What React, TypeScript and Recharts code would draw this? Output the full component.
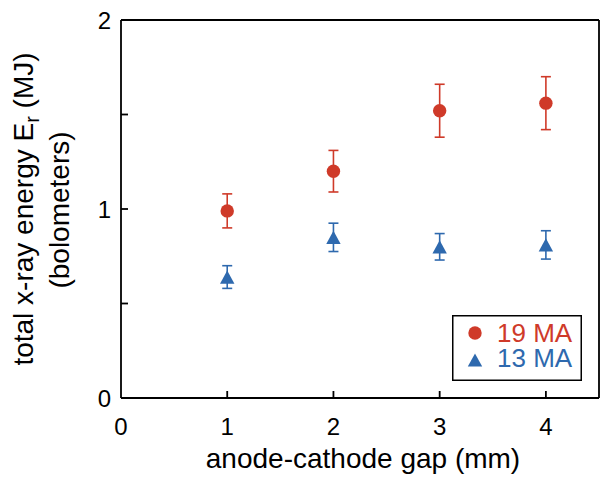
import React from 'react';
import { ScatterChart, Scatter, XAxis, YAxis, ErrorBar, Legend } from 'recharts';

const gap = [1, 2, 3, 4];
const energy19 = [0.99, 1.2, 1.52, 1.56];
const err19 = [0.09, 0.11, 0.14, 0.14];
const energy13 = [0.64, 0.85, 0.8, 0.81];
const err13 = [0.06, 0.075, 0.07, 0.075];
const xTicks = [0, 1, 2, 3, 4];
const yTicks = [0, 0.5, 1, 1.5, 2];

const RED = '#cf3a29';
const BLUE = '#2e69ae';
const FONT = '"Liberation Sans", Arial, Helvetica, sans-serif';
const AXIS_W = 1.8;
const TICK_LEN = 7;

const data19 = gap.map((g, i) => ({ x: g, y: energy19[i], err: err19[i] }));
const data13 = gap.map((g, i) => ({ x: g, y: energy13[i], err: err13[i] }));

function Dot(props: any) {
  const { cx, cy, fill } = props;
  return <circle cx={cx} cy={cy} r={6.7} fill={fill} />;
}

function Tri(props: any) {
  const { cx, cy, fill } = props;
  const w = 7.2;
  const h = 6.6;
  return <path d={`M${cx},${cy - h} L${cx + w},${cy + h} L${cx - w},${cy + h} Z`} fill={fill} />;
}

function BottomTick({ x, y, payload }: any) {
  return (
    <g>
      {payload.value > 0 && <line x1={x} x2={x} y1={y} y2={y - TICK_LEN} stroke="#000" strokeWidth={AXIS_W} />}
      <text x={x} y={y + 37} textAnchor="middle" fontSize={24} fontFamily={FONT} fill="#000">
        {payload.value}
      </text>
    </g>
  );
}

function TopTick({ x, y, payload }: any) {
  if (payload.value <= 0) return <g />;
  return <line x1={x} x2={x} y1={y} y2={y + TICK_LEN} stroke="#000" strokeWidth={AXIS_W} />;
}

function LeftTick({ x, y, payload }: any) {
  const v = payload.value;
  return (
    <g>
      {v > 0 && v < 2 && <line x1={x} x2={x + TICK_LEN} y1={y} y2={y} stroke="#000" strokeWidth={AXIS_W} />}
      {Number.isInteger(v) && (
        <text x={x - 10} y={y + 8.5} textAnchor="end" fontSize={24} fontFamily={FONT} fill="#000">
          {v}
        </text>
      )}
    </g>
  );
}

function RightTick({ x, y, payload }: any) {
  const v = payload.value;
  if (v <= 0 || v >= 2) return <g />;
  return <line x1={x} x2={x - TICK_LEN} y1={y} y2={y} stroke="#000" strokeWidth={AXIS_W} />;
}

function YLabel() {
  return (
    <g fontFamily={FONT} fontSize={28} fill="#000">
      <text x={33} y={209} transform="rotate(-90 33 209)" textAnchor="middle">
        total x-ray energy E<tspan dy={6} fontSize={20}>r</tspan>
        <tspan dy={-6}> (MJ)</tspan>
      </text>
      <text x={69} y={210} transform="rotate(-90 69 210)" textAnchor="middle">
        (bolometers)
      </text>
    </g>
  );
}

function XLabel() {
  return (
    <text x={363} y={468} textAnchor="middle" fontSize={28} fontFamily={FONT} fill="#000">
      anode-cathode gap (mm)
    </text>
  );
}

function LegendBox() {
  return (
    <svg width={130} height={66} style={{ display: 'block' }}>
      <rect x={0.75} y={0.75} width={128.5} height={64.5} fill="#fff" stroke="#000" strokeWidth={1.5} />
      <circle cx={23} cy={18} r={6.7} fill={RED} />
      <text x={45} y={27} fontSize={26} fontFamily={FONT} fill={RED}>19 MA</text>
      <path d="M23,38.4 L30.2,51.6 L15.8,51.6 Z" fill={BLUE} />
      <text x={45} y={52} fontSize={26} fontFamily={FONT} fill={BLUE}>13 MA</text>
    </svg>
  );
}

export default function App() {
  return (
    <div style={{ position: 'absolute', left: 0, top: 0, width: 600, height: 477, background: '#fff' }}>
      <ScatterChart width={600} height={477} margin={{ top: 19, right: 0, bottom: 78, left: 120 }}>
        <XAxis
          type="number"
          dataKey="x"
          domain={[0, 4.5]}
          ticks={xTicks}
          height={1}
          tickSize={0}
          tickMargin={0}
          tickLine={false}
          axisLine={{ stroke: '#000', strokeWidth: AXIS_W }}
          tick={<BottomTick />}
          label={<XLabel />}
        />
        <XAxis
          xAxisId="top"
          orientation="top"
          type="number"
          domain={[0, 4.5]}
          ticks={xTicks}
          height={1}
          tickSize={0}
          tickMargin={0}
          tickLine={false}
          axisLine={{ stroke: '#000', strokeWidth: AXIS_W }}
          tick={<TopTick />}
        />
        <YAxis
          type="number"
          dataKey="y"
          domain={[0, 2]}
          ticks={yTicks}
          width={1}
          tickSize={0}
          tickMargin={0}
          tickLine={false}
          axisLine={{ stroke: '#000', strokeWidth: AXIS_W }}
          tick={<LeftTick />}
          label={<YLabel />}
        />
        <YAxis
          yAxisId="right"
          orientation="right"
          type="number"
          domain={[0, 2]}
          ticks={yTicks}
          width={1}
          tickSize={0}
          tickMargin={0}
          tickLine={false}
          axisLine={{ stroke: '#000', strokeWidth: AXIS_W }}
          tick={<RightTick />}
        />
        <Scatter name="19 MA" data={data19} fill={RED} shape={<Dot />} isAnimationActive={false}>
          <ErrorBar dataKey="err" direction="y" width={5} stroke={RED} strokeWidth={1.6} isAnimationActive={false} />
        </Scatter>
        <Scatter name="13 MA" data={data13} fill={BLUE} shape={<Tri />} isAnimationActive={false}>
          <ErrorBar dataKey="err" direction="y" width={5} stroke={BLUE} strokeWidth={1.6} isAnimationActive={false} />
        </Scatter>
        <Legend
          layout="horizontal"
          verticalAlign="middle"
          align="center"
          wrapperStyle={{ left: 452, top: 315, width: 130, height: 66 }}
          content={() => <LegendBox />}
        />
      </ScatterChart>
    </div>
  );
}
